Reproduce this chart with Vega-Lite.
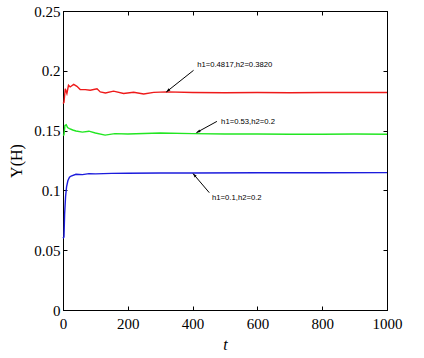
{
  "$schema": "https://vega.github.io/schema/vega-lite/v6.json",
  "width": 324,
  "height": 299,
  "autosize": "none",
  "padding": {"left": 63, "top": 11, "right": 37, "bottom": 48},
  "background": "white",
  "config": {
    "view": {"stroke": "black", "strokeWidth": 1},
    "axis": {"grid": false, "domainColor": "black", "tickColor": "black", "labelColor": "black", "titleColor": "black", "tickSize": -4, "labelFlush": false}
  },
  "resolve": {"axis": {"x": "independent", "y": "independent"}},
  "datasets": {
    "series": [
      {"t": 0, "y": 0.1726, "s": "a"}, {"t": 3, "y": 0.1735, "s": "a"}, {"t": 7, "y": 0.185, "s": "a"}, {"t": 12, "y": 0.181, "s": "a"}, {"t": 17, "y": 0.1879, "s": "a"}, {"t": 22, "y": 0.1865, "s": "a"}, {"t": 33, "y": 0.1887, "s": "a"}, {"t": 43, "y": 0.187, "s": "a"}, {"t": 53, "y": 0.1843, "s": "a"}, {"t": 69, "y": 0.1843, "s": "a"}, {"t": 84, "y": 0.1837, "s": "a"}, {"t": 105, "y": 0.1849, "s": "a"}, {"t": 115, "y": 0.1823, "s": "a"}, {"t": 131, "y": 0.1815, "s": "a"}, {"t": 156, "y": 0.183, "s": "a"}, {"t": 187, "y": 0.181, "s": "a"}, {"t": 218, "y": 0.182, "s": "a"}, {"t": 249, "y": 0.1806, "s": "a"}, {"t": 280, "y": 0.182, "s": "a"}, {"t": 321, "y": 0.1824, "s": "a"}, {"t": 400, "y": 0.1818, "s": "a"}, {"t": 500, "y": 0.1816, "s": "a"}, {"t": 600, "y": 0.1818, "s": "a"}, {"t": 700, "y": 0.1817, "s": "a"}, {"t": 800, "y": 0.1818, "s": "a"}, {"t": 900, "y": 0.1818, "s": "a"}, {"t": 1000, "y": 0.1819, "s": "a"},
      {"t": 0, "y": 0.146, "s": "b"}, {"t": 3, "y": 0.1465, "s": "b"}, {"t": 6, "y": 0.1544, "s": "b"}, {"t": 10, "y": 0.155, "s": "b"}, {"t": 14, "y": 0.1525, "s": "b"}, {"t": 20, "y": 0.1517, "s": "b"}, {"t": 30, "y": 0.1505, "s": "b"}, {"t": 40, "y": 0.1497, "s": "b"}, {"t": 60, "y": 0.1487, "s": "b"}, {"t": 80, "y": 0.1495, "s": "b"}, {"t": 100, "y": 0.148, "s": "b"}, {"t": 130, "y": 0.1462, "s": "b"}, {"t": 160, "y": 0.1475, "s": "b"}, {"t": 200, "y": 0.1472, "s": "b"}, {"t": 300, "y": 0.148, "s": "b"}, {"t": 400, "y": 0.1475, "s": "b"}, {"t": 500, "y": 0.1472, "s": "b"}, {"t": 600, "y": 0.1471, "s": "b"}, {"t": 700, "y": 0.147, "s": "b"}, {"t": 800, "y": 0.147, "s": "b"}, {"t": 900, "y": 0.1471, "s": "b"}, {"t": 1000, "y": 0.147, "s": "b"},
      {"t": 0, "y": 0.06, "s": "c"}, {"t": 3, "y": 0.061, "s": "c"}, {"t": 5, "y": 0.08, "s": "c"}, {"t": 8, "y": 0.095, "s": "c"}, {"t": 11, "y": 0.103, "s": "c"}, {"t": 15, "y": 0.108, "s": "c"}, {"t": 20, "y": 0.111, "s": "c"}, {"t": 25, "y": 0.112, "s": "c"}, {"t": 40, "y": 0.1135, "s": "c"}, {"t": 60, "y": 0.1132, "s": "c"}, {"t": 80, "y": 0.114, "s": "c"}, {"t": 100, "y": 0.1138, "s": "c"}, {"t": 150, "y": 0.1142, "s": "c"}, {"t": 200, "y": 0.1143, "s": "c"}, {"t": 300, "y": 0.1145, "s": "c"}, {"t": 400, "y": 0.1146, "s": "c"}, {"t": 600, "y": 0.1147, "s": "c"}, {"t": 800, "y": 0.1148, "s": "c"}, {"t": 1000, "y": 0.1149, "s": "c"}
    ],
    "notes": [
      {"id": "a", "label": "h1=0.4817,h2=0.3820", "lt": 414, "ly": 0.2046, "t1": 403, "y1": 0.2004, "t2": 318.8, "y2": 0.1823},
      {"id": "b", "label": "h1=0.53,h2=0.2", "lt": 488, "ly": 0.1572, "t1": 475, "y1": 0.1577, "t2": 411.7, "y2": 0.1483},
      {"id": "c", "label": "h1=0.1,h2=0.2", "lt": 460, "ly": 0.0937, "t1": 451.5, "y1": 0.0981, "t2": 401.2, "y2": 0.1141}
    ]
  },
  "layer": [
    {
      "data": {"name": "series"},
      "mark": {"type": "line", "strokeWidth": 1.4, "interpolate": "linear"},
      "encoding": {
        "x": {"field": "t", "type": "quantitative", "scale": {"domain": [0, 1000], "nice": false}, "axis": {"values": [0, 200, 400, 600, 800, 1000], "format": "d", "title": "t", "titleFontStyle": "italic", "titlePadding": 5, "labelPadding": 10, "labelFlush": false, "labelFont": "Liberation Serif", "titleFont": "Liberation Serif", "labelFontSize": 15, "titleFontSize": 16, "titleFontWeight": "normal"}},
        "y": {"field": "y", "type": "quantitative", "scale": {"domain": [0, 0.25], "nice": false}, "axis": {"values": [0, 0.05, 0.1, 0.15, 0.2, 0.25], "format": "~g", "title": "Y(H)", "titlePadding": 9, "labelPadding": 7, "labelFlush": false, "labelFont": "Liberation Serif", "titleFont": "Liberation Serif", "labelFontSize": 15, "titleFontSize": 16, "titleFontWeight": "normal"}},
        "color": {"field": "s", "type": "nominal", "scale": {"domain": ["a", "b", "c"], "range": ["#ee1a1a", "#22e622", "#1c1cdc"]}, "legend": null},
        "detail": {"field": "s"}
      }
    },
    {
      "data": {"name": "series"},
      "mark": {"type": "line", "opacity": 0},
      "encoding": {
        "x": {"field": "t", "type": "quantitative", "axis": {"orient": "top", "values": [0, 200, 400, 600, 800, 1000], "labels": false, "title": null}},
        "y": {"field": "y", "type": "quantitative", "axis": {"orient": "right", "values": [0, 0.05, 0.1, 0.15, 0.2, 0.25], "labels": false, "title": null}},
        "detail": {"field": "s"}
      }
    },
    {
      "data": {"name": "notes"},
      "mark": {"type": "rule", "color": "black", "strokeWidth": 1},
      "encoding": {
        "x": {"field": "t1", "type": "quantitative", "axis": null},
        "y": {"field": "y1", "type": "quantitative", "axis": null},
        "x2": {"field": "t2"},
        "y2": {"field": "y2"}
      }
    },
    {
      "data": {"name": "notes"},
      "transform": [{"filter": "datum.id == 'a'"}],
      "mark": {"type": "point", "shape": "M0,0L-0.45,1.3L0.45,1.3Z", "filled": true, "color": "black", "opacity": 1, "size": 40, "angle": 231.5},
      "encoding": {"x": {"field": "t2", "type": "quantitative", "axis": null}, "y": {"field": "y2", "type": "quantitative", "axis": null}}
    },
    {
      "data": {"name": "notes"},
      "transform": [{"filter": "datum.id == 'b'"}],
      "mark": {"type": "point", "shape": "M0,0L-0.45,1.3L0.45,1.3Z", "filled": true, "color": "black", "opacity": 1, "size": 40, "angle": 241.4},
      "encoding": {"x": {"field": "t2", "type": "quantitative", "axis": null}, "y": {"field": "y2", "type": "quantitative", "axis": null}}
    },
    {
      "data": {"name": "notes"},
      "transform": [{"filter": "datum.id == 'c'"}],
      "mark": {"type": "point", "shape": "M0,0L-0.45,1.3L0.45,1.3Z", "filled": true, "color": "black", "opacity": 1, "size": 40, "angle": 319.4},
      "encoding": {"x": {"field": "t2", "type": "quantitative", "axis": null}, "y": {"field": "y2", "type": "quantitative", "axis": null}}
    },
    {
      "data": {"name": "notes"},
      "mark": {"type": "text", "align": "left", "baseline": "middle", "font": "Liberation Sans", "fontSize": 7.7, "color": "black"},
      "encoding": {
        "x": {"field": "lt", "type": "quantitative", "axis": null},
        "y": {"field": "ly", "type": "quantitative", "axis": null},
        "text": {"field": "label"}
      }
    }
  ]
}
